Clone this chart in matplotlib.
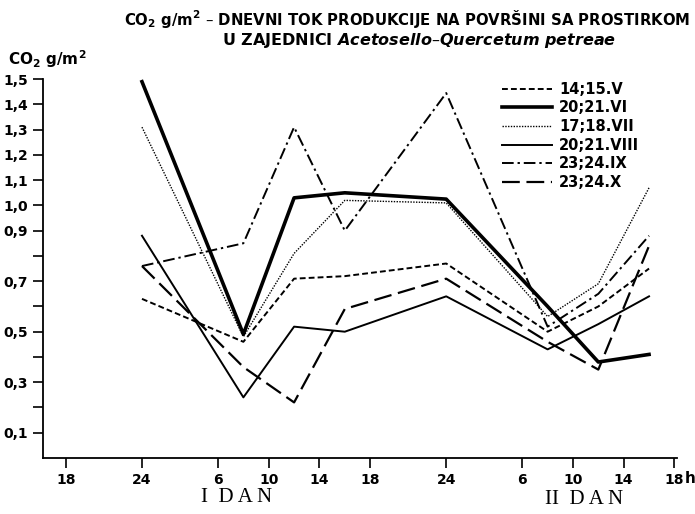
import matplotlib
matplotlib.use('Agg')
from matplotlib import pyplot as plt

plt.rcParams['font.family'] = ['DejaVu Sans']
plt.rcParams['font.weight'] = 'bold'
plt.rcParams['mathtext.default'] = 'regular'

# hours counted from 18h on the evening before day I
hours = [24, 32, 36, 40, 48, 56, 60, 64]
v_14_15 = [0.63, 0.46, 0.71, 0.72, 0.77, 0.50, 0.60, 0.75]
vi_20_21 = [1.49, 0.49, 1.03, 1.05, 1.025, 0.60, 0.38, 0.41]
vii_17_18 = [1.31, 0.48, 0.81, 1.02, 1.01, 0.56, 0.69, 1.07]
viii_20_21 = [0.88, 0.24, 0.52, 0.50, 0.64, 0.43, 0.53, 0.64]
ix_23_24 = [0.76, 0.85, 1.31, 0.90, 1.445, 0.52, 0.65, 0.88]
x_23_24 = [0.76, 0.36, 0.22, 0.59, 0.71, 0.46, 0.35, 0.84]

xticks = [18, 24, 30, 34, 38, 42, 48, 54, 58, 62, 66]
xlabels = ['18', '24', '6', '10', '14', '18', '24', '6', '10', '14', '18']
yticks = [0.1, 0.2, 0.3, 0.4, 0.5, 0.6, 0.7, 0.8, 0.9, 1.0, 1.1, 1.2, 1.3, 1.4, 1.5]
ylabels = ['0,1', '', '0,3', '', '0,5', '', '0,7', '', '0,9', '1,0', '1,1', '1,2', '1,3', '1,4', '1,5']

fig = plt.figure(figsize=(6.95, 5.14), dpi=100)
ax = fig.add_axes([0.062, 0.109, 0.912, 0.737])

ax.plot(hours, v_14_15, color='k', lw=1.4, ls=(0, (3, 1.6)), label='14;15.V')
ax.plot(hours, vi_20_21, color='k', lw=2.6, ls='-', label='20;21.VI')
ax.plot(hours, vii_17_18, color='k', lw=1.0, ls=(0, (1, 1)), label='17;18.VII')
ax.plot(hours, viii_20_21, color='k', lw=1.4, ls='-', label='20;21.VIII')
ax.plot(hours, ix_23_24, color='k', lw=1.4, ls=(0, (6, 2, 1.2, 2)), label='23;24.IX')
ax.plot(hours, x_23_24, color='k', lw=1.6, ls=(0, (8, 3)), label='23;24.X')

ax.set_xlim(16.2, 66.2)
ax.set_ylim(0, 1.5)
ax.spines['top'].set_visible(False)
ax.spines['right'].set_visible(False)
ax.spines['left'].set_linewidth(1.3)
ax.spines['bottom'].set_linewidth(1.3)

ax.set_xticks(xticks)
ax.set_xticklabels(xlabels, fontsize=10)
ax.set_yticks(yticks)
ax.set_yticklabels(ylabels, fontsize=10)
ax.tick_params(direction='out', length=7, width=1.2, pad=4)

fig.text(0.985, 0.07, 'h', fontsize=11, ha='left', va='center')
fig.text(0.012, 0.885, r'CO$_2$ g/m$^2$', fontsize=11, ha='left', va='center')
fig.text(0.586, 0.963, r'CO$_2$ g/m$^2$ – DNEVNI TOK PRODUKCIJE NA POVRŠINI SA PROSTIRKOM',
         fontsize=10.7, ha='center', va='center')
fig.text(0.603, 0.921, 'U ZAJEDNICI $\\it{Acetosello – Quercetum\\ petreae}$',
         fontsize=11.5, ha='center', va='center')
fig.text(0.341, 0.033, 'I  D A N', family='Liberation Serif', weight='normal',
         fontsize=15, ha='center', va='center')
fig.text(0.84, 0.028, 'II  D A N', family='Liberation Serif', weight='normal',
         fontsize=15, ha='center', va='center')

ax.legend(loc='upper left', bbox_to_anchor=(0.712, 0.855), bbox_transform=fig.transFigure,
          frameon=False, handlelength=3.4, handletextpad=0.5, labelspacing=0.25,
          fontsize=10.5, borderpad=0)

fig.savefig('out.png', dpi=100)
